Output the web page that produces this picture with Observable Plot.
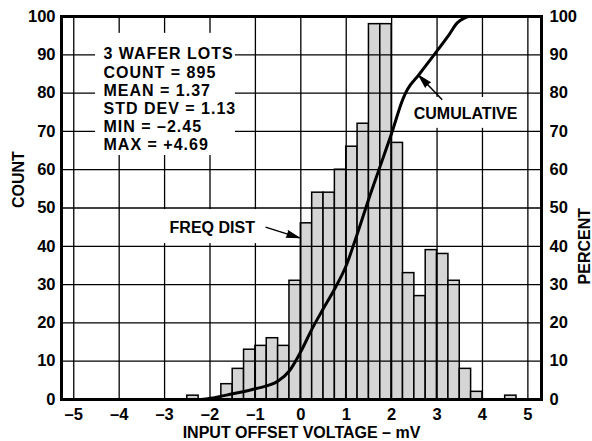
<!DOCTYPE html>
<html><head><meta charset="utf-8">
<script src="https://cdn.jsdelivr.net/npm/d3@7"></script>
<script src="https://cdn.jsdelivr.net/npm/@observablehq/plot@0.6"></script>
<style>body{margin:0;background:#fff} .stats text{letter-spacing:1px}</style>
</head><body><div id="chart"></div>
<script>
// Histogram bins (left edges, mV) and counts
const binStart = [-2.5, -1.75, -1.5, -1.25, -1.0, -0.75, -0.5, -0.25, 0.0, 0.25, 0.5, 0.75, 1.0, 1.25, 1.5, 1.75, 2.0, 2.25, 2.5, 2.75, 3.0, 3.25, 3.5, 3.75, 4.5];
const counts   = [1,    4,     8,    13,    14,   16,    14,   31,    46,  54,   54,  60,   66,  72,   98,  98,   67,  33,   27,  39,   38,  31,   8,   2,    1];
const binWidth = 0.25;

// Cumulative percent curve
const cumX   = [-5.27, -2.2, -2.0, -1.5, -1.0, -0.5, -0.25, 0.0, 0.25, 0.5, 0.75, 1.0, 1.25, 1.5, 1.75, 2.0, 2.25, 2.35, 2.6, 3.0, 3.25, 3.45, 3.6, 3.72, 5.3];
const cumPct = [0,     0,    0.3,  1.5,  2.8,  4.8,  7.5,   12.5, 18.5, 23.8, 29,  35,  43.5, 52.5, 61,  69.5, 78.5, 81,   84.8, 91,  95,   98.4, 99.6, 100, 100];

// Axes
const xTicks = [-5, -4, -3, -2, -1, 0, 1, 2, 3, 4, 5];
const yTicks = [0, 10, 20, 30, 40, 50, 60, 70, 80, 90, 100];
const xDomain = [-5.27, 5.3];
const yDomain = [0, 100];

// Texts
const statsLines = ["3 WAFER LOTS", "COUNT = 895", "MEAN = 1.37", "STD DEV = 1.13", "MIN = \u20132.45", "MAX = +4.69"];
const xTitle = "INPUT OFFSET VOLTAGE \u2013 mV";
const yLeftTitle = "COUNT";
const yRightTitle = "PERCENT";

// Annotation placement (data coordinates)
const statsNote = {x: -4.345, y: 78.5, text: statsLines.join("\n")};
const statsMask = {x1: -4.52, x2: -1.44, y1: 63.7, y2: 95.6};
const freqNote = {x: -1.95, y: 44.8, text: "FREQ DIST"};
const freqMask = {x1: -3.13, x2: -0.84, y1: 40.7, y2: 49.6};
const freqArrow = {x1: -0.777, y1: 45.0, x2: -0.028, y2: 42.2};
const cumNote = {x: 3.628, y: 74.7, text: "CUMULATIVE"};
const cumMask = {x1: 2.37, x2: 4.88, y1: 70.8, y2: 78.85};
const cumArrow = {x1: 3.114, y1: 78.25, x2: 2.599, y2: 84.6};

const W = 592, H = 441, mL = 61, mR = 51, mT = 16, mB = 42;

const bars = binStart.map((s, i) => ({x1: s, x2: s + binWidth, count: counts[i]}));
const cum = cumX.map((x, i) => ({x, y: cumPct[i]}));

const sx = Plot.scale({x: {domain: xDomain, range: [mL, W - mR]}});
const sy = Plot.scale({y: {domain: yDomain, range: [H - mB, mT]}});
const arrows = [freqArrow, cumArrow].map(a => {
  const dx = sx.apply(a.x2) - sx.apply(a.x1);
  const dy = sy.apply(a.y2) - sy.apply(a.y1);
  return {...a, rotate: Math.atan2(dx, -dy) * 180 / Math.PI};
});

const font = "Liberation Sans, Arial, Helvetica, sans-serif";
const fmt = d => d < 0 ? "\u2013" + Math.abs(d) : String(d);

const chart = Plot.plot({
  width: W, height: H,
  marginLeft: mL, marginRight: mR, marginTop: mT, marginBottom: mB,
  style: {fontFamily: font, fontSize: "16px", fontWeight: "bold", color: "black", background: "white"},
  x: {domain: xDomain},
  y: {domain: yDomain},
  marks: [
    Plot.rect(bars, {x1: "x1", x2: "x2", y1: 0, y2: "count", fill: "#d5d5d5", stroke: "black", strokeWidth: 1.5}),
    Plot.gridX(xTicks, {stroke: "black", strokeOpacity: 1, strokeWidth: 1.3}),
    Plot.gridY(yTicks, {stroke: "black", strokeOpacity: 1, strokeWidth: 1.3}),
    Plot.rect([statsMask, freqMask, cumMask], {x1: "x1", x2: "x2", y1: "y1", y2: "y2", fill: "white"}),
    Plot.line(cum, {x: "x", y: "y", stroke: "black", strokeWidth: 3, curve: "monotone-x"}),
    Plot.frame({stroke: "black", strokeWidth: 3}),
    Plot.axisX(xTicks, {tickSize: 0, tickPadding: 9, tickFormat: fmt, fontSize: 16.5, fontWeight: "bold", label: null}),
    Plot.axisY(yTicks, {anchor: "left", tickSize: 0, tickPadding: 6, fontSize: 16.5, fontWeight: "bold", label: null}),
    Plot.axisY(yTicks, {anchor: "right", tickSize: 0, tickPadding: 8, fontSize: 16.5, fontWeight: "bold", label: null}),
    Plot.text([xTitle], {frameAnchor: "bottom", dy: 33, lineAnchor: "middle", fontSize: 16, fontWeight: "bold"}),
    Plot.text([yLeftTitle], {frameAnchor: "left", dx: -43, rotate: -90, fontSize: 16, fontWeight: "bold"}),
    Plot.text([yRightTitle], {frameAnchor: "right", dx: 43, rotate: -90, fontSize: 16, fontWeight: "bold"}),
    Plot.text([statsNote], {x: "x", y: "y", text: "text", textAnchor: "start", lineAnchor: "middle", lineHeight: 1.13, fontSize: 16, fontWeight: "bold", className: "stats"}),
    Plot.text([freqNote, cumNote], {x: "x", y: "y", text: "text", fontSize: 16, fontWeight: "bold"}),
    Plot.link(arrows, {x1: "x1", y1: "y1", x2: "x2", y2: "y2", stroke: "black", strokeWidth: 1.5}),
    Plot.vector(arrows, {x: "x2", y: "y2", rotate: "rotate", length: 13, r: 3.5, shape: "spike", anchor: "end", fill: "black", stroke: "black", strokeWidth: 1})
  ]
});
document.getElementById("chart").appendChild(chart);
</script>
</body></html>
